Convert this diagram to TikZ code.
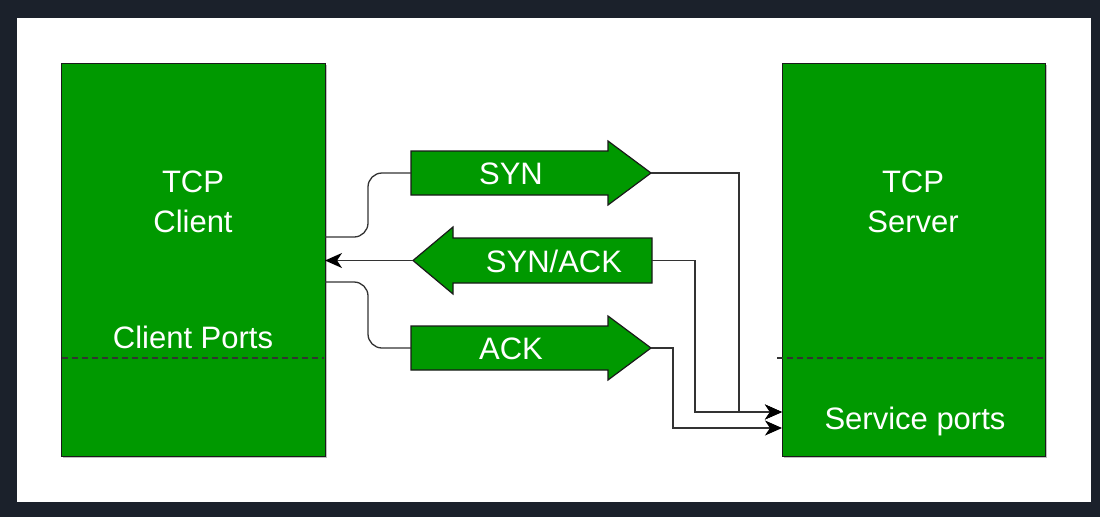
\documentclass[tikz,border=0pt]{standalone}
\usepackage{fontspec}
\setmainfont{Liberation Sans}
\usetikzlibrary{arrows.meta}
\definecolor{framecol}{HTML}{1B212B}
\definecolor{boxgreen}{HTML}{009900}
\definecolor{edgecol}{HTML}{1A1A1A}
\begin{document}
\begin{tikzpicture}[x=1pt,y=-1pt,
  box/.style={draw=edgecol, fill=boxgreen, line width=1.2pt, inner sep=0pt},
  shadowbox/.style={fill=black!25},
  arrowshape/.style={draw=edgecol, fill=boxgreen, line width=1.2pt, line join=miter},
  lbl/.style={text=white, font=\fontsize{31}{37}\selectfont, inner sep=0pt, anchor=base},
  conn/.style={draw=black!80, line width=1.3pt},
  arrowend/.style={-{Stealth[length=17pt,width=15pt,inset=5pt,color=black]}},
  divider/.style={draw=black!80, line width=1.3pt, dash pattern=on 6pt off 4pt}]
% background
\useasboundingbox (0,0) rectangle (1100,517);
\fill[framecol] (0,0) rectangle (1100,517);
\fill[white] (17,18) rectangle (1091,502);
% shadows
\fill[shadowbox] (63,65) rectangle (327,458);
\fill[shadowbox] (784,65) rectangle (1047,458);
% boxes
\node[box, minimum width=264pt, minimum height=393pt, anchor=north west] (client) at (61,63) {};
\node[box, minimum width=263pt, minimum height=393pt, anchor=north west] (server) at (782,63) {};
% dividers
\coordinate (cdl) at (62,358);
\coordinate (cdr) at (324,358);
\coordinate (sdl) at (777,358);
\coordinate (sdr) at (1044,358);
\draw[divider] (cdl) -- (cdr);
\draw[divider] (sdl) -- (sdr);
% box labels
\node[lbl] (tcpc) at (193,192) {TCP};
\node[lbl] (clientl) at (193,232) {Client};
\node[lbl] (cports) at (193,348) {Client Ports};
\node[lbl] (tcps) at (913,192) {TCP};
\node[lbl] (serverl) at (913,232) {Server};
\node[lbl] (sports) at (915,429) {Service ports};
% message arrows
\draw[arrowshape] (411,151) -- (608,151) -- (608,141) -- (651,173) -- (608,205) -- (608,195) -- (411,195) -- cycle;
\coordinate (synL) at (411,173);
\coordinate (synR) at (651,173);
\node[lbl] (synt) at (511,184) {SYN};
\draw[arrowshape] (652,238) -- (453,238) -- (453,227) -- (413,260.5) -- (453,294) -- (453,283) -- (652,283) -- cycle;
\coordinate (sackL) at (413,260.5);
\coordinate (sackR) at (652,260.5);
\node[lbl] (sackt) at (554,272) {SYN/ACK};
\draw[arrowshape] (411,326) -- (608,326) -- (608,316) -- (651,348) -- (608,380) -- (608,370) -- (411,370) -- cycle;
\coordinate (ackL) at (411,348);
\coordinate (ackR) at (651,348);
\node[lbl] (ackt) at (511,359) {ACK};
% ports
\coordinate (cp1) at (325,237);
\coordinate (cp2) at (325,260.5);
\coordinate (cp3) at (325,282);
\coordinate (sp1) at (782,412);
\coordinate (sp2) at (782,428);
% connectors
\draw[conn, rounded corners=14pt] (cp1) -- (368,237) -- (368,173) -- (synL);
\draw[conn, arrowend] (synR) -- (739,173) -- (739,412) -- (sp1);
\draw[conn, arrowend] (sackR) -- (695,260.5) -- (695,412) -- (sp1);
\draw[conn, arrowend] (sackL) -- (cp2);
\draw[conn, rounded corners=14pt] (cp3) -- (368,282) -- (368,348) -- (ackL);
\draw[conn, arrowend] (ackR) -- (673,348) -- (673,428) -- (sp2);
\end{tikzpicture}
\end{document}
